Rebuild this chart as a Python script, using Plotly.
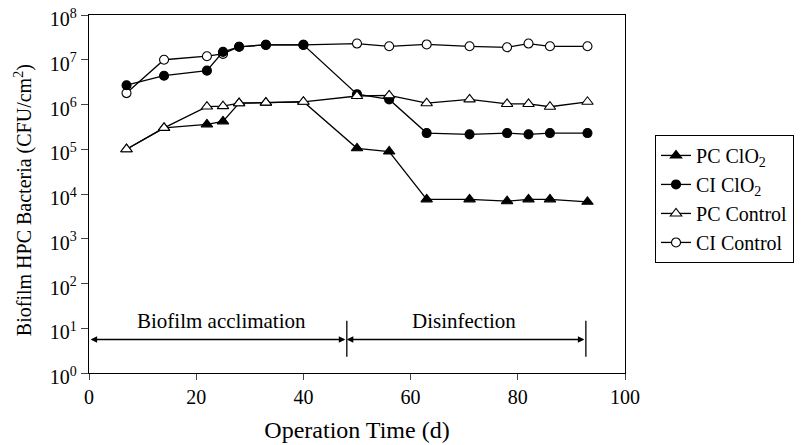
import numpy as np
import plotly.graph_objects as go

days = [7, 14, 22, 25, 28, 33, 40, 50, 56, 63, 71, 78, 82, 86, 93]
pc_clo2 = [1.0e5, 3.0e5, 3.6e5, 4.2e5, 1.07e6, 1.1e6, 1.15e6, 1.05e5, 8.9e4, 7.6e3, 7.6e3, 6.9e3, 7.6e3, 7.6e3, 6.7e3]
ci_clo2 = [2.7e6, 4.4e6, 5.7e6, 1.5e7, 1.95e7, 2.15e7, 2.15e7, 1.7e6, 1.3e6, 2.3e5, 2.15e5, 2.3e5, 2.15e5, 2.3e5, 2.3e5]
pc_control = [1.0e5, 3.0e5, 9.0e5, 9.2e5, 1.07e6, 1.1e6, 1.15e6, 1.55e6, 1.6e6, 1.07e6, 1.3e6, 1.03e6, 1.03e6, 8.9e5, 1.15e6]
ci_control = [1.8e6, 1.0e7, 1.2e7, 1.35e7, 1.95e7, 2.15e7, 2.15e7, 2.3e7, 2.0e7, 2.2e7, 2.0e7, 1.9e7, 2.3e7, 2.0e7, 2.0e7]

x_ticks = [0, 20, 40, 60, 80, 100]
y_exponents = [0, 1, 2, 3, 4, 5, 6, 7, 8]

phase_bounds = [0.3, 48.1, 92.7]
phase_labels = ["Biofilm acclimation", "Disinfection"]
arrow_level = 5.6
bar_low, bar_high = 2.3, 14.8
label_level = 14.5

FONT = "Liberation Serif"
fig = go.Figure()

def add(name, y, filled, tri, rank):
    fig.add_trace(go.Scatter(
        x=days, y=y, name=name, mode="lines+markers", legendrank=rank,
        line=dict(color="black", width=1.3),
        marker=dict(symbol="triangle-up" if tri else "circle",
                    size=10 if tri else 9,
                    color="black" if filled else "white",
                    line=dict(color="black", width=1.1)),
    ))

add("PC ClO<sub>2</sub>", pc_clo2, True, True, 1)
add("CI Control", ci_control, False, False, 4)
add("CI ClO<sub>2</sub>", ci_clo2, True, False, 2)
add("PC Control", pc_control, False, True, 3)

# phase boundary bars
for xb in phase_bounds[1:]:
    fig.add_trace(go.Scatter(x=[xb, xb], y=[bar_low, bar_high], mode="lines",
                             line=dict(color="black", width=1.3),
                             showlegend=False, hoverinfo="skip"))

ly = np.log10(arrow_level)
for i in range(2):
    a, b = phase_bounds[i], phase_bounds[i + 1]
    fig.add_annotation(x=a, y=ly, ax=b, ay=ly, xref="x", yref="y", axref="x", ayref="y",
                       showarrow=True, arrowhead=2, startarrowhead=2, arrowside="end+start",
                       arrowsize=1, arrowwidth=1.3, arrowcolor="black", text="")
    fig.add_annotation(x=(a + b) / 2 + (0.6 if i == 0 else -0.4), y=np.log10(label_level),
                       xref="x", yref="y", text=phase_labels[i], showarrow=False,
                       font=dict(family=FONT, size=21, color="black"))

# y-axis title as rotated annotation
fig.add_annotation(x=-0.123, y=0.483, xref="paper", yref="paper", textangle=-90,
                   text="Biofilm HPC Bacteria (CFU/cm<sup>2</sup>)", showarrow=False,
                   xanchor="center", yanchor="middle",
                   font=dict(family=FONT, size=20, color="black"))

fig.update_layout(
    width=803, height=445,
    margin=dict(l=81, r=186, t=7, b=80),
    paper_bgcolor="white", plot_bgcolor="white",
    font=dict(family=FONT, size=20, color="black"),
    showlegend=True,
    legend=dict(x=1.056, y=0.665, xanchor="left", yanchor="top",
                bordercolor="black", borderwidth=1, bgcolor="white",
                font=dict(family=FONT, size=20, color="black"),
                tracegroupgap=0),
)
fig.update_xaxes(range=[0, 100], tickvals=x_ticks, ticks="outside", ticklen=6,
                 tickwidth=1.3, linecolor="black", linewidth=1.3, mirror=True,
                 showgrid=False, zeroline=False, automargin=False,
                 ticklabeloverflow="allow",
                 title=dict(text="Operation Time (d)", standoff=14),
                 tickfont=dict(family=FONT, size=20))
fig.update_yaxes(type="log", range=[0, 8], tickvals=[10 ** e for e in y_exponents],
                 ticktext=[f"10<sup>{e}</sup>" for e in y_exponents],
                 ticks="outside", ticklen=7, tickwidth=1.3, linecolor="black",
                 linewidth=1.3, mirror=True, showgrid=False, zeroline=False, automargin=False,
                 ticklabeloverflow="allow", ticklabelshift=4,
                 tickfont=dict(family=FONT, size=20))

fig.write_html("out.html")
